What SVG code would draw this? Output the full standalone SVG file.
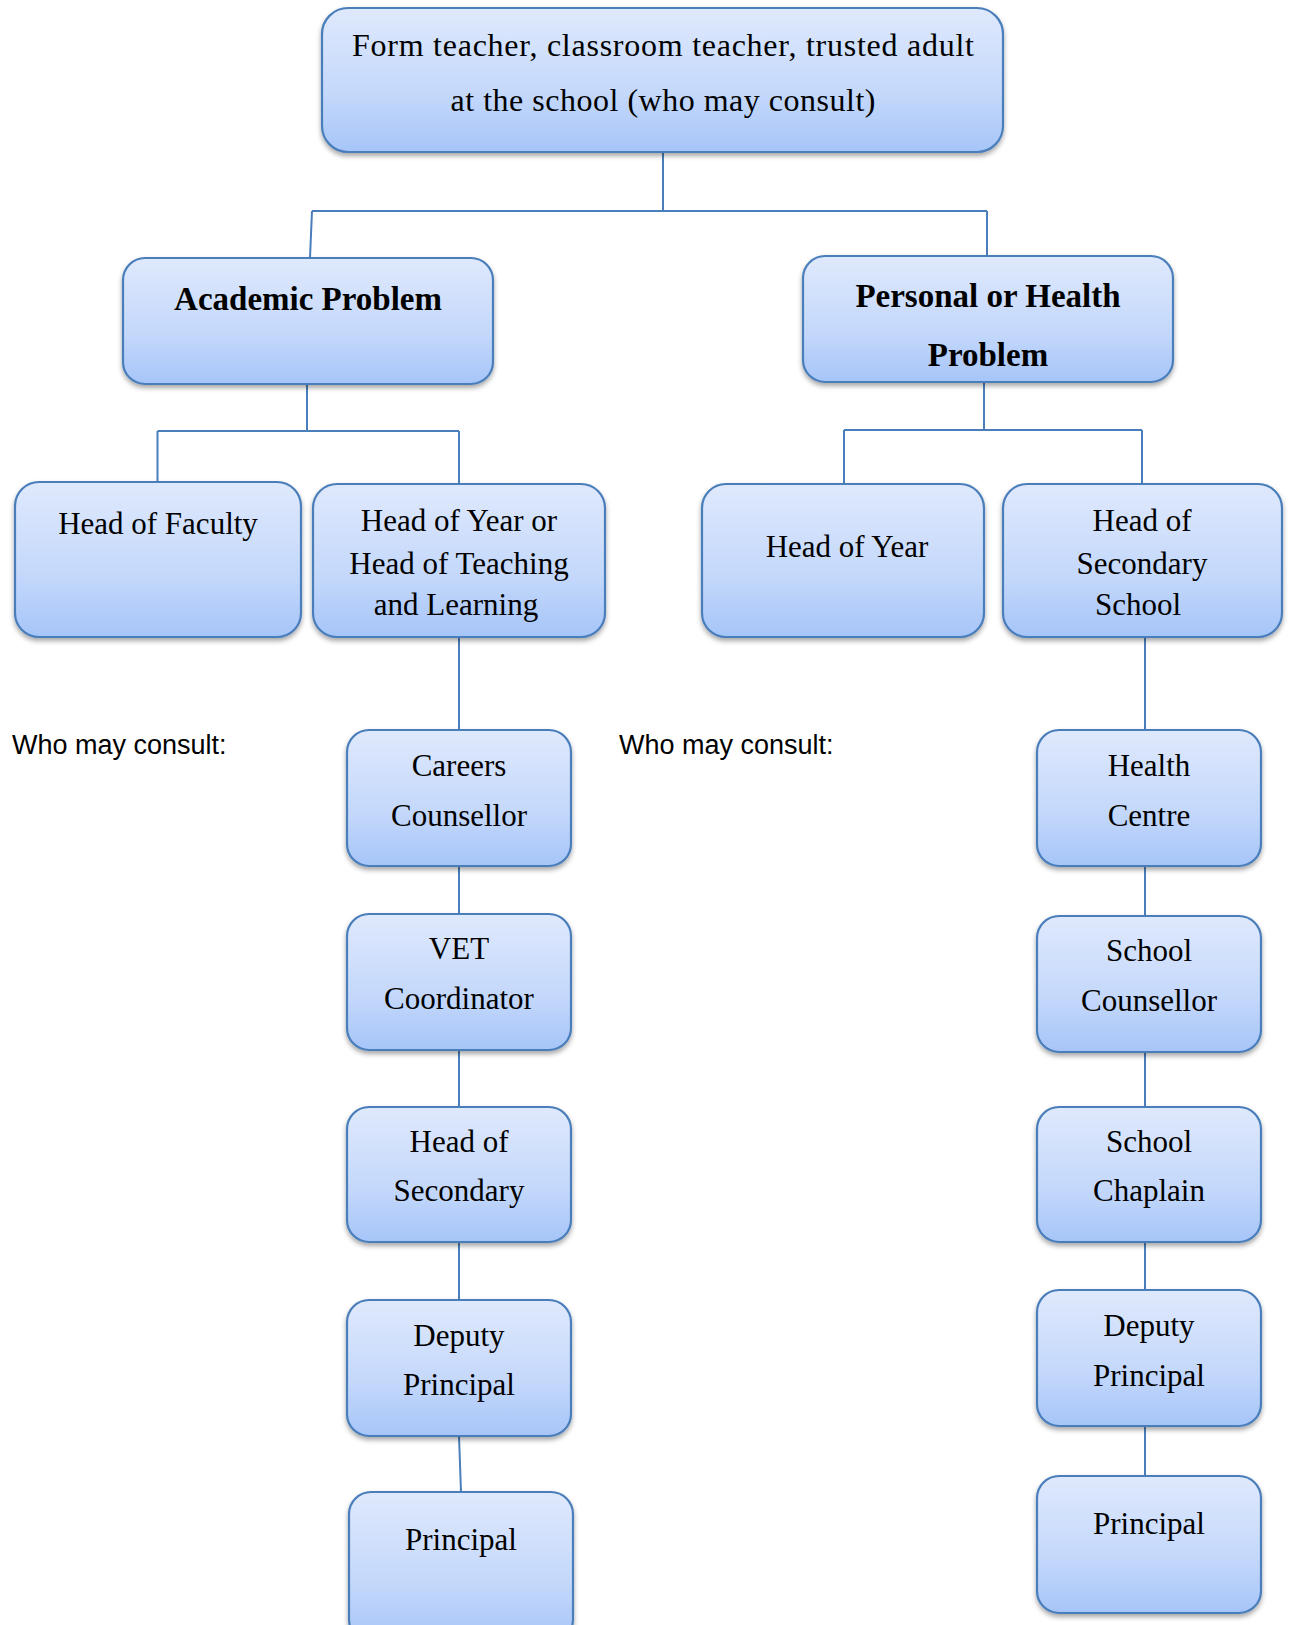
<svg xmlns="http://www.w3.org/2000/svg" width="1291" height="1625" viewBox="0 0 1291 1625">
<defs>
<linearGradient id="g" x1="0" y1="0" x2="0" y2="1">
<stop offset="0" stop-color="#dfe9fc"/>
<stop offset="0.6" stop-color="#c4d8fb"/>
<stop offset="1" stop-color="#a6c5f8"/>
</linearGradient>
<filter id="sh" x="-10%" y="-10%" width="120%" height="130%">
<feDropShadow dx="0" dy="3" stdDeviation="2.5" flood-color="#000" flood-opacity="0.35"/>
</filter>
<style>
.box{fill:url(#g);stroke:#4a7ebb;stroke-width:2.2;filter:url(#sh)}
.t{font-family:"Liberation Serif","Times New Roman",serif;font-size:31px;fill:#000;text-anchor:middle}
.top{font-size:32px}
.b{font-weight:bold;font-size:33px}
.s{font-family:"Liberation Sans",Arial,sans-serif;font-size:27px;fill:#000}
.c{fill:none;stroke:#4a7ebb;stroke-width:2}
</style>
</defs>
<rect width="1291" height="1625" fill="#fff"/>
<g id="connectors">
<path class="c" d="M663 152V211M312 211H987M312 211L310 258M987 211V256"/>
<path class="c" d="M307 384V431M157.5 431H459M157.5 431V482M459 431V484"/>
<path class="c" d="M984 382V430M844 430H1142M844 430V484M1142 430V484"/>
<path class="c" d="M459 637V730M459 866V914M459 1050V1107M459 1242V1300M459 1436L461 1492"/>
<path class="c" d="M1145 637V730M1145 866V916M1145 1052V1107M1145 1242V1290M1145 1426V1476"/>
</g>
<g id="top"><rect class="box" x="322" y="8" width="681" height="144" rx="26"/>
<text class="t top" x="663" y="56" textLength="622" lengthAdjust="spacing">Form teacher, classroom teacher, trusted adult</text>
<text class="t top" x="663" y="111" textLength="425" lengthAdjust="spacing">at the school (who may consult)</text></g>
<g id="academic"><rect class="box" x="123" y="258" width="370" height="126" rx="22"/>
<text class="t b" x="308" y="310">Academic Problem</text></g>
<g id="personal"><rect class="box" x="803" y="256" width="370" height="126" rx="22"/>
<text class="t b" x="988" y="307">Personal or Health</text>
<text class="t b" x="988" y="366">Problem</text></g>
<g id="head-faculty"><rect class="box" x="15" y="482" width="286" height="155" rx="24"/>
<text class="t" x="158" y="534">Head of Faculty</text></g>
<g id="head-year-teaching"><rect class="box" x="313" y="484" width="292" height="153" rx="24"/>
<text class="t" x="459" y="531">Head of Year or</text>
<text class="t" x="459" y="574">Head of Teaching</text>
<text class="t" x="456" y="615">and Learning</text></g>
<g id="head-year"><rect class="box" x="702" y="484" width="282" height="153" rx="24"/>
<text class="t" x="847" y="557">Head of Year</text></g>
<g id="head-secondary-school"><rect class="box" x="1003" y="484" width="279" height="153" rx="24"/>
<text class="t" x="1142" y="531">Head of</text>
<text class="t" x="1142" y="574">Secondary</text>
<text class="t" x="1138" y="615">School</text></g>
<text class="s" x="12" y="754">Who may consult:</text>
<text class="s" x="619" y="754">Who may consult:</text>
<g id="careers"><rect class="box" x="347" y="730" width="224" height="136" rx="22"/>
<text class="t" x="459" y="776">Careers</text>
<text class="t" x="459" y="826">Counsellor</text></g>
<g id="vet"><rect class="box" x="347" y="914" width="224" height="136" rx="22"/>
<text class="t" x="459" y="959">VET</text>
<text class="t" x="459" y="1009">Coordinator</text></g>
<g id="head-secondary"><rect class="box" x="347" y="1107" width="224" height="135" rx="22"/>
<text class="t" x="459" y="1152">Head of</text>
<text class="t" x="459" y="1201">Secondary</text></g>
<g id="deputy-left"><rect class="box" x="347" y="1300" width="224" height="136" rx="22"/>
<text class="t" x="459" y="1346">Deputy</text>
<text class="t" x="459" y="1395">Principal</text></g>
<g id="principal-left"><rect class="box" x="349" y="1492" width="224" height="150" rx="22"/>
<text class="t" x="461" y="1550">Principal</text></g>
<g id="health-centre"><rect class="box" x="1037" y="730" width="224" height="136" rx="22"/>
<text class="t" x="1149" y="776">Health</text>
<text class="t" x="1149" y="826">Centre</text></g>
<g id="school-counsellor"><rect class="box" x="1037" y="916" width="224" height="136" rx="22"/>
<text class="t" x="1149" y="961">School</text>
<text class="t" x="1149" y="1011">Counsellor</text></g>
<g id="school-chaplain"><rect class="box" x="1037" y="1107" width="224" height="135" rx="22"/>
<text class="t" x="1149" y="1152">School</text>
<text class="t" x="1149" y="1201">Chaplain</text></g>
<g id="deputy-right"><rect class="box" x="1037" y="1290" width="224" height="136" rx="22"/>
<text class="t" x="1149" y="1336">Deputy</text>
<text class="t" x="1149" y="1386">Principal</text></g>
<g id="principal-right"><rect class="box" x="1037" y="1476" width="224" height="137" rx="22"/>
<text class="t" x="1149" y="1534">Principal</text></g>
</svg>
